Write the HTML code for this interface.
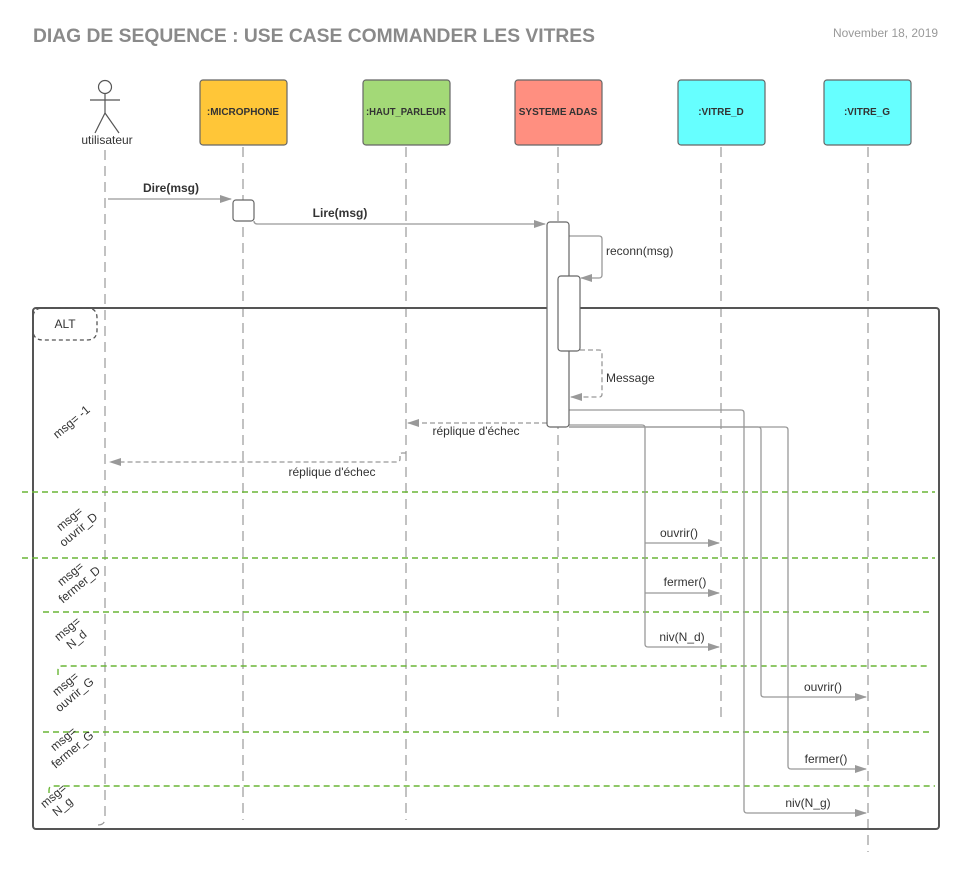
<!DOCTYPE html>
<html><head><meta charset="utf-8"><style>
html,body{margin:0;padding:0;background:#fff;}
svg{display:block;font-family:"Liberation Sans",sans-serif;}
</style></head><body>
<svg width="960" height="873" viewBox="0 0 960 873" xmlns="http://www.w3.org/2000/svg">
<defs>
<marker id="ah" markerWidth="12" markerHeight="8" refX="11" refY="4" orient="auto" markerUnits="userSpaceOnUse">
<path d="M0,0 L12,4 L0,8 Z" fill="#999"/></marker>
</defs>
<text x="33" y="42" font-size="19" font-weight="bold" fill="#8a8a8a" textLength="562" lengthAdjust="spacingAndGlyphs">DIAG DE SEQUENCE : USE CASE COMMANDER LES VITRES</text>
<text x="938" y="37" font-size="12" fill="#999" text-anchor="end" textLength="105" lengthAdjust="spacingAndGlyphs">November 18, 2019</text>

<g stroke="#999" stroke-width="1.2" stroke-dasharray="10,6" fill="none">
<path d="M105,150 V818 q0,7 -7,7"/>
<line x1="243" y1="147" x2="243" y2="820"/>
<line x1="406" y1="147" x2="406" y2="820"/>
<line x1="558" y1="147" x2="558" y2="720"/>
<line x1="721" y1="147" x2="721" y2="720"/>
<line x1="868" y1="147" x2="868" y2="852"/>
</g>

<g stroke="#555" stroke-width="1.2" fill="none">
<circle cx="105" cy="87" r="6.5"/>
<line x1="105" y1="94" x2="105" y2="113"/>
<line x1="90" y1="100" x2="120" y2="100"/>
<line x1="105" y1="113" x2="95" y2="133"/>
<line x1="105" y1="113" x2="119" y2="133"/>
</g>
<text x="107" y="144" font-size="12" fill="#333" text-anchor="middle">utilisateur</text>

<g stroke="#666" stroke-width="1.2">
<rect x="200" y="80" width="87" height="65" rx="3" fill="#ffc638"/>
<rect x="363" y="80" width="87" height="65" rx="3" fill="#a3d977"/>
<rect x="515" y="80" width="87" height="65" rx="3" fill="#ff8f80"/>
<rect x="678" y="80" width="87" height="65" rx="3" fill="#66ffff"/>
<rect x="824" y="80" width="87" height="65" rx="3" fill="#66ffff"/>
</g>
<g font-size="10" font-weight="bold" fill="#333" text-anchor="middle">
<text x="243" y="115">:MICROPHONE</text>
<text x="406" y="115" textLength="80" lengthAdjust="spacingAndGlyphs">:HAUT_PARLEUR</text>
<text x="558" y="115">SYSTEME ADAS</text>
<text x="721" y="115">:VITRE_D</text>
<text x="867" y="115">:VITRE_G</text>
</g>

<rect x="33" y="308" width="906" height="521" rx="3" fill="none" stroke="#555" stroke-width="2"/>
<path d="M33,320 V330 q0,10 10,10 H87 q10,0 10,-10 V318 q0,-10 -10,-10 H43 q-10,0 -10,10" fill="none" stroke="#555" stroke-width="1.3" stroke-dasharray="4,3"/>
<text x="65" y="328" font-size="12" fill="#333" text-anchor="middle">ALT</text>

<g stroke="#6ab636" stroke-width="1.4" stroke-dasharray="6,4" fill="none">
<line x1="22" y1="492" x2="935" y2="492"/>
<line x1="22" y1="558" x2="935" y2="558"/>
<line x1="43" y1="612" x2="930" y2="612"/>
<path d="M58,675 V670 q0,-4 4,-4 H930"/>
<line x1="43" y1="732" x2="930" y2="732"/>
<path d="M49,793 V790 q0,-4 4,-4 H935"/>
</g>

<g stroke="#999" stroke-width="1.3" fill="none">
<line x1="108" y1="199" x2="231" y2="199" marker-end="url(#ah)"/>
<path d="M254,221 q0,3 4,3 H545" marker-end="url(#ah)"/>
<path d="M569,236 H599 q3,0 3,3 V275 q0,3 -3,3 H581" marker-end="url(#ah)"/>
<path d="M580,350 H599 q3,0 3,3 V394 q0,3 -3,3 H571" stroke-dasharray="5,3" marker-end="url(#ah)"/>
<line x1="547" y1="423" x2="408" y2="423" stroke-dasharray="5,3" marker-end="url(#ah)"/>
<path d="M406,453 H402 q-2,0 -2,3 V459 q0,3 -4,3 H110" stroke-dasharray="5,3" marker-end="url(#ah)"/>
<path d="M569,410 H741 q3,0 3,3 V810 q0,3 3,3 H866" marker-end="url(#ah)"/>
<path d="M569,425 H642 q3,0 3,3 V644 q0,3 3,3 H719" marker-end="url(#ah)"/>
<line x1="645" y1="543" x2="719" y2="543" marker-end="url(#ah)"/>
<line x1="645" y1="593" x2="719" y2="593" marker-end="url(#ah)"/>
<path d="M569,427 H758 q3,0 3,3 V694 q0,3 3,3 H866" marker-end="url(#ah)"/>
<path d="M569,427 H785 q3,0 3,3 V766 q0,3 3,3 H866" marker-end="url(#ah)"/>
</g>

<g stroke="#666" stroke-width="1.2" fill="#fff">
<rect x="233" y="200" width="21" height="21" rx="3"/>
<rect x="547" y="222" width="22" height="205" rx="3"/>
<rect x="558" y="276" width="22" height="75" rx="3"/>
</g>

<g font-size="12" fill="#333" text-anchor="middle">
<text x="171" y="192" font-weight="bold">Dire(msg)</text>
<text x="340" y="217" font-weight="bold">Lire(msg)</text>
<text x="606" y="255" text-anchor="start">reconn(msg)</text>
<text x="606" y="382" text-anchor="start">Message</text>
<text x="476" y="435">réplique d'échec</text>
<text x="332" y="476">réplique d'échec</text>
<text x="679" y="537">ouvrir()</text>
<text x="685" y="586">fermer()</text>
<text x="682" y="641">niv(N_d)</text>
<text x="823" y="691">ouvrir()</text>
<text x="826" y="763">fermer()</text>
<text x="808" y="807">niv(N_g)</text>
</g>

<g font-size="12" fill="#333" text-anchor="middle">
<text transform="translate(74,425) rotate(-40)">msg= -1</text>
<g transform="translate(72,522) rotate(-40)"><text x="0" y="0">msg=</text><text x="0" y="14">ouvrir_D</text></g>
<g transform="translate(73,577) rotate(-40)"><text x="0" y="0">msg=</text><text x="0" y="14">fermer_D</text></g>
<g transform="translate(70,632) rotate(-40)"><text x="0" y="0">msg=</text><text x="0" y="14">N_d</text></g>
<g transform="translate(68,687) rotate(-40)"><text x="0" y="0">msg=</text><text x="0" y="14">ouvrir_G</text></g>
<g transform="translate(66,742) rotate(-40)"><text x="0" y="0">msg=</text><text x="0" y="14">fermer_G</text></g>
<g transform="translate(56,799) rotate(-40)"><text x="0" y="0">msg=</text><text x="0" y="14">N_g</text></g>
</g>
</svg>
</body></html>
